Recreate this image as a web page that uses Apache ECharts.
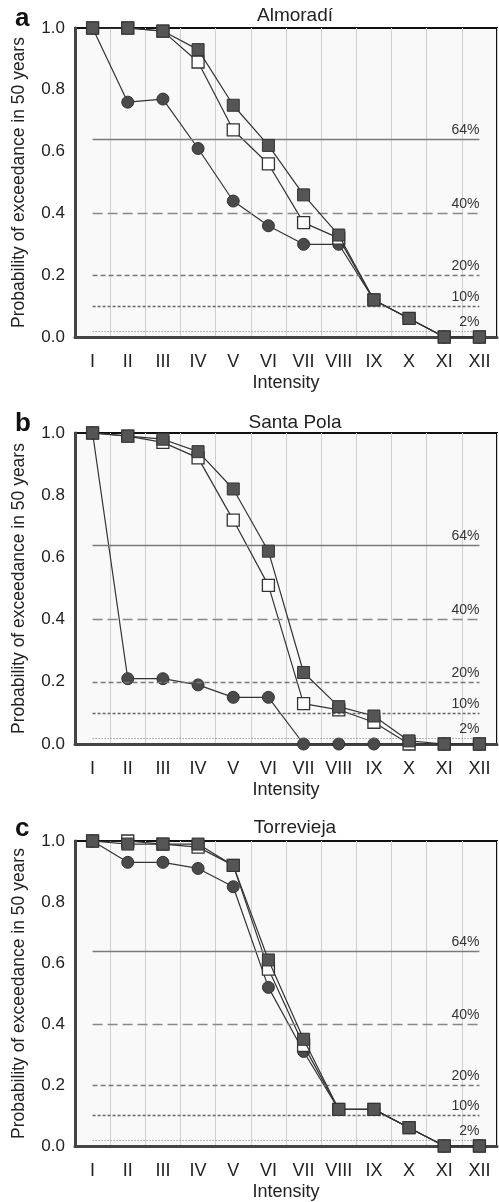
<!DOCTYPE html>
<html>
<head>
<meta charset="utf-8">
<script src="https://cdn.jsdelivr.net/npm/echarts@6/dist/echarts.min.js"></script>
<style>
  html, body { margin: 0; padding: 0; background: #fff; }
  #chart { width: 499px; height: 1202px; }
</style>
</head>
<body>
<div id="chart"></div>
<script>
// intensity classes on the x axis
const intensities = ['I', 'II', 'III', 'IV', 'V', 'VI', 'VII', 'VIII', 'IX', 'X', 'XI', 'XII']

// a - Almoradí
const almoradiFilled = [1.0, 1.0, 0.99, 0.93, 0.75, 0.62, 0.46, 0.33, 0.12, 0.06, 0.0, 0.0]
const almoradiOpen = [1.0, 1.0, 0.99, 0.89, 0.67, 0.56, 0.37, 0.32, 0.12, 0.06, 0.0, 0.0]
const almoradiCircle = [1.0, 0.76, 0.77, 0.61, 0.44, 0.36, 0.30, 0.30, 0.12, 0.06, 0.0, 0.0]

// b - Santa Pola
const santaPolaFilled = [1.0, 0.99, 0.98, 0.94, 0.82, 0.62, 0.23, 0.12, 0.09, 0.01, 0.0, 0.0]
const santaPolaOpen = [1.0, 0.99, 0.97, 0.92, 0.72, 0.51, 0.13, 0.11, 0.07, 0.0, 0.0, 0.0]
const santaPolaCircle = [1.0, 0.21, 0.21, 0.19, 0.15, 0.15, 0.0, 0.0, 0.0, 0.0, 0.0, 0.0]

// c - Torrevieja
const torreviejaFilled = [1.0, 0.99, 0.99, 0.99, 0.92, 0.61, 0.35, 0.12, 0.12, 0.06, 0.0, 0.0]
const torreviejaOpen = [1.0, 1.0, 0.99, 0.98, 0.92, 0.58, 0.33, 0.12, 0.12, 0.06, 0.0, 0.0]
const torreviejaCircle = [1.0, 0.93, 0.93, 0.91, 0.85, 0.52, 0.31, 0.12, 0.12, 0.06, 0.0, 0.0]

// reference probability levels
const refLevels = [0.64, 0.40, 0.20, 0.10, 0.02]
const refLabels = ['64%', '40%', '20%', '10%', '2%']
const refDash = ['solid', [10, 5], [5, 3], [3, 2], [1, 2]]
const refColor = ['#7a7a7a', '#888', '#777', '#666', '#777']

const panelNames = ['Almoradí', 'Santa Pola', 'Torrevieja']
const panelLetters = ['a', 'b', 'c']
const panelData = [
  [almoradiFilled, almoradiOpen, almoradiCircle],
  [santaPolaFilled, santaPolaOpen, santaPolaCircle],
  [torreviejaFilled, torreviejaOpen, torreviejaCircle]
]

const font = '"Liberation Sans", Arial, sans-serif'
const gridTops = [28, 433, 841]
const gridHeights = [309, 311, 307]
const titleTops = [1, 408, 813]
const letterTops = [1, 406, 811]

let grids = []
let xAxes = []
let yAxes = []
let titles = []
let series = []

panelNames.forEach((name, i) => {
  grids.push({
    left: 75,
    right: 2,
    top: gridTops[i],
    height: gridHeights[i],
    show: true,
    backgroundColor: '#f9f9f9',
    borderColor: '#111',
    borderWidth: 2
  })
  xAxes.push({
    type: 'category',
    gridIndex: i,
    data: intensities,
    boundaryGap: true,
    axisLine: { show: true, lineStyle: { color: '#444', width: 3 } },
    axisTick: { show: false },
    axisLabel: { color: '#222', fontSize: 18, fontFamily: font, margin: 16 },
    splitLine: { show: true, lineStyle: { color: '#cfcfcf', width: 1 } },
    name: 'Intensity',
    nameLocation: 'middle',
    nameGap: 37,
    nameTextStyle: { color: '#222', fontSize: 18, fontFamily: font }
  })
  yAxes.push({
    type: 'value',
    gridIndex: i,
    min: 0,
    max: 1,
    interval: 0.2,
    axisLine: { show: true, lineStyle: { color: '#444', width: 3 } },
    axisTick: { show: false },
    splitLine: { show: false },
    axisLabel: {
      color: '#222',
      fontSize: 17,
      fontFamily: font,
      margin: 10,
      formatter: v => v.toFixed(1)
    },
    name: 'Probability of exceedance in 50 years',
    nameLocation: 'middle',
    nameRotate: 90,
    nameGap: 47,
    nameTextStyle: { color: '#222', fontSize: 17.5, fontFamily: font }
  })
  titles.push({
    text: name,
    left: 290,
    textAlign: 'center',
    top: titleTops[i],
    textStyle: { color: '#222', fontSize: 19, fontWeight: 'normal', fontFamily: font }
  })
  titles.push({
    text: panelLetters[i],
    left: 10,
    top: letterTops[i],
    textStyle: { color: '#111', fontSize: 26, fontWeight: 'bold', fontFamily: font }
  })

  // reference levels
  series.push({
    type: 'line',
    xAxisIndex: i,
    yAxisIndex: i,
    data: [],
    silent: true,
    markLine: {
      symbol: 'none',
      silent: true,
      animation: false,
      data: refLevels.map((lv, k) => [
        {
          coord: ['I', lv],
          lineStyle: { color: refColor[k], type: refDash[k], width: k === 4 ? 1 : 1.3 },
          label: {
            show: true,
            position: 'insideEndTop',
            formatter: refLabels[k],
            color: '#333',
            fontSize: 14,
            fontFamily: font,
            distance: [0, 2]
          }
        },
        { coord: ['XII', lv] }
      ])
    }
  })

  const [filled, open, circle] = panelData[i]
  const line = { color: '#333', width: 1.2 }
  series.push({
    type: 'line',
    xAxisIndex: i,
    yAxisIndex: i,
    data: circle,
    symbol: 'circle',
    symbolSize: 12,
    lineStyle: line,
    itemStyle: { color: '#4a4a4a', borderColor: '#333', borderWidth: 1 },
    z: 3
  })
  series.push({
    type: 'line',
    xAxisIndex: i,
    yAxisIndex: i,
    data: open,
    symbol: 'rect',
    symbolSize: 12,
    lineStyle: line,
    itemStyle: { color: '#fff', borderColor: '#333', borderWidth: 1.3 },
    z: 4
  })
  series.push({
    type: 'line',
    xAxisIndex: i,
    yAxisIndex: i,
    data: filled,
    symbol: 'rect',
    symbolSize: 12,
    lineStyle: line,
    itemStyle: { color: '#555', borderColor: '#333', borderWidth: 1 },
    z: 5
  })
})

let myChart = echarts.init(document.getElementById('chart'), null, { renderer: 'canvas' })
myChart.setOption({
  animation: false,
  backgroundColor: '#fff',
  title: titles,
  grid: grids,
  xAxis: xAxes,
  yAxis: yAxes,
  series: series
})
</script>
</body>
</html>
